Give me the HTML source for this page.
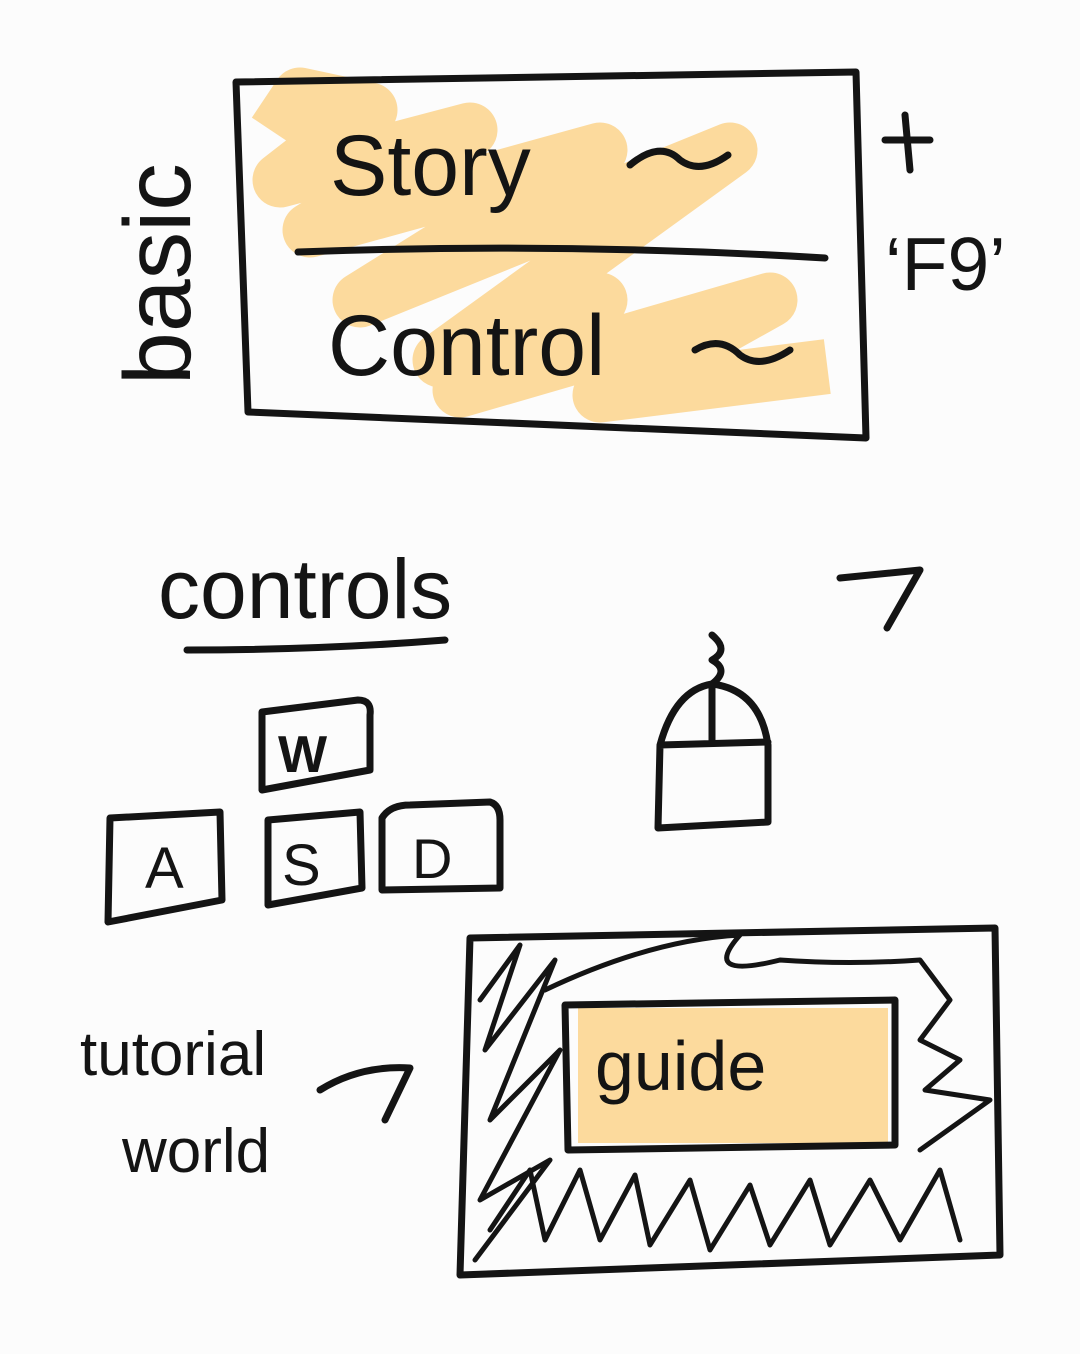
<!DOCTYPE html>
<html><head><meta charset="utf-8"><style>
html,body{margin:0;padding:0;background:#fcfcfc;}
svg{display:block;}
text{font-family:"Liberation Sans",sans-serif;fill:#141414;}
</style></head><body>
<svg width="1080" height="1354" viewBox="0 0 1080 1354" xmlns="http://www.w3.org/2000/svg">
<rect width="1080" height="1354" fill="#fcfcfc"/>
<g fill="none" stroke="#fbd38c" stroke-opacity="0.85" stroke-width="55" stroke-linejoin="round" stroke-linecap="square">
<polyline points="290,110 300,95 370,110 280,180 470,130 310,230 600,150 360,300 730,150 440,360 600,300 460,390 770,300 600,395 800,370"/>
</g>
<rect x="578" y="1008" width="310" height="135" fill="#fbd38c" fill-opacity="0.85"/>
<g fill="none" stroke="#141414" stroke-width="7" stroke-linecap="round" stroke-linejoin="round">
<path d="M236,82 L856,72 L866,438 L248,412 Z"/>
<path d="M298,252 Q560,242 825,258"/>
<path d="M885,140 L930,140 M905,115 L910,170"/>
<path d="M630,165 Q660,140 680,160 Q700,175 728,155"/>
<path d="M695,350 Q720,335 740,355 Q760,370 790,350"/>
<path d="M187,650 Q320,650 445,640"/>
<path d="M840,578 L920,570 L887,628"/>
<path d="M658,828 L660,745 Q675,690 712,684 Q760,690 768,745 L768,822 Z M660,745 L768,742 M712,684 L712,742"/>
<path d="M712,684 Q730,670 712,660 Q730,650 712,635"/>
<path d="M262,712 L358,700 Q372,700 370,715 L370,770 L262,790 Z"/>
<path d="M110,818 L220,812 L222,900 L108,922 Z"/>
<path d="M268,820 L360,812 L362,888 L268,905 Z"/>
<path d="M382,818 Q390,805 410,805 L490,802 Q500,805 500,820 L500,888 L382,890 Z"/>
<path d="M470,938 L995,928 L1000,1255 L460,1275 Z"/>
<path d="M565,1005 L895,1000 L895,1145 L568,1150 Z"/>
<path d="M480,1000 L520,945 L485,1050 L555,960 L490,1120 L560,1050 L480,1200 L550,1160 L475,1260" stroke-width="5"/>
<path d="M545,990 Q650,940 740,935 Q700,980 780,960 Q850,965 920,960 L950,1000 L920,1040 L960,1060 L925,1090 L990,1100 L920,1150" stroke-width="5"/>
<path d="M490,1230 L530,1170 L545,1240 L580,1170 L600,1240 L635,1175 L650,1245 L690,1180 L710,1250 L750,1185 L770,1245 L810,1180 L830,1245 L870,1180 L900,1240 L940,1170 L960,1240" stroke-width="5"/>
<path d="M320,1090 Q360,1065 410,1068 L385,1120"/>
</g>
<text x="330" y="195" font-size="86">Story</text>
<text x="328" y="375" font-size="86">Control</text>
<text transform="translate(190,385) rotate(-90)" font-size="95">basic</text>
<text x="885" y="290" font-size="75">‘F9’</text>
<text x="158" y="618" font-size="84">controls</text>
<text x="278" y="772" font-size="52" font-weight="bold">W</text>
<text x="145" y="888" font-size="58">A</text>
<text x="282" y="885" font-size="58">S</text>
<text x="412" y="878" font-size="56">D</text>
<text x="80" y="1075" font-size="62">tutorial</text>
<text x="122" y="1172" font-size="62">world</text>
<text x="595" y="1090" font-size="70">guide</text>
</svg>
</body></html>
